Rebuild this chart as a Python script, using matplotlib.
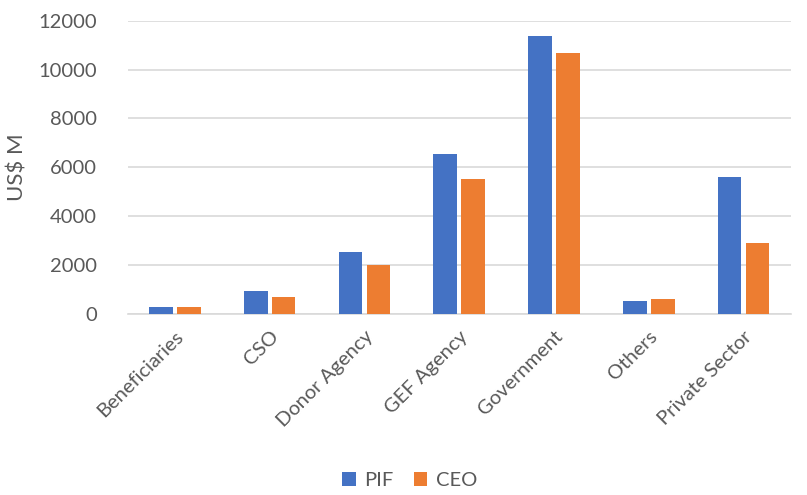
import matplotlib
matplotlib.use("Agg")
import matplotlib.pyplot as plt
import numpy as np

plt.rcParams['font.family'] = ['Lato', 'DejaVu Sans']

categories = ["Beneficiaries", "CSO", "Donor Agency", "GEF Agency",
              "Government", "Others", "Private Sector"]
pif = [260, 955, 2525, 6560, 11380, 515, 5600]
ceo = [260, 700, 2020, 5505, 10670, 625, 2890]
yticks = [0, 2000, 4000, 6000, 8000, 10000, 12000]

blue = "#4472C4"
orange = "#ED7D31"
text_col = "#595959"

fig = plt.figure(figsize=(8.07, 4.95), dpi=100)
ax = fig.add_axes([0.158, 0.366, 0.822, 0.592])

x = np.arange(len(categories))
w = 0.25
gap = 0.045
ax.bar(x - (w + gap) / 2, pif, width=w, color=blue, label="PIF", zorder=3)
ax.bar(x + (w + gap) / 2, ceo, width=w, color=orange, label="CEO", zorder=3)

ax.set_xlim(-0.5, len(categories) - 0.5)
ax.set_ylim(0, 12000)
ax.set_yticks(yticks)
ax.set_yticklabels([str(v) for v in yticks], fontsize=14.5, color=text_col)
ax.set_xticks(x)
ax.set_xticklabels(categories, rotation=45, ha="right", rotation_mode="anchor",
                   fontsize=14.5, color=text_col)
ax.tick_params(axis="both", length=0)
ax.tick_params(axis="y", pad=22)
ax.tick_params(axis="x", pad=10)

ax.grid(axis="y", color="#d9d9d9", linewidth=1.2, zorder=0)
for s in ["top", "right", "left"]:
    ax.spines[s].set_visible(False)
ax.spines["bottom"].set_color("#d9d9d9")
ax.spines["bottom"].set_linewidth(1.2)

ax.set_ylabel("US$ M", fontsize=16, color=text_col, labelpad=8)

fig.legend(loc="lower center", bbox_to_anchor=(0.508, -0.025), ncol=2, frameon=False,
           fontsize=14.5, handlelength=0.65, handleheight=0.65, columnspacing=1.0,
           handletextpad=0.45, labelcolor=text_col)

fig.savefig("out.png", dpi=100, facecolor="white")
